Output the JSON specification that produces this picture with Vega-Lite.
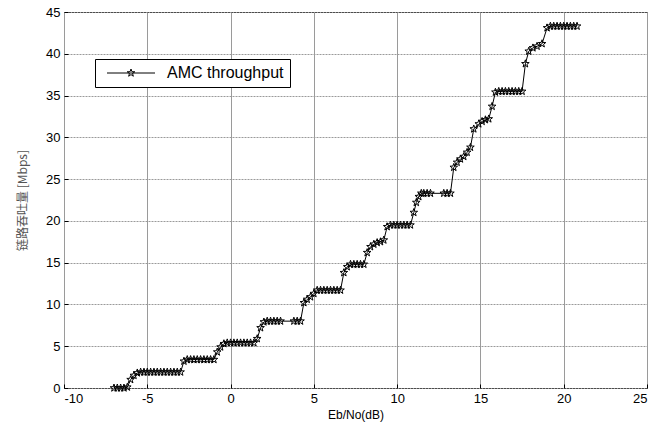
{
  "$schema": "https://vega.github.io/schema/vega-lite/v6.json",
  "width": 583,
  "height": 376,
  "autosize": {"type": "none"},
  "padding": {"left": 64, "top": 12, "right": 13, "bottom": 41},
  "background": "white",
  "config": {
    "view": {"stroke": "black", "strokeWidth": 1},
    "font": "Liberation Sans",
    "axis": {"labelFont": "Liberation Sans", "labelFontSize": 13, "labelColor": "black", "domain": false, "ticks": true, "tickSize": -4, "tickColor": "black", "gridColor": "#9a9a9a", "gridWidth": 1, "gridOpacity": 1, "labelExpr": "'' + datum.value"}
  },
  "data": {"values": [
    {"x": -7.0, "y": 0, "s": "AMC throughput"},
    {"x": -6.8, "y": 0, "s": "AMC throughput"},
    {"x": -6.6, "y": 0, "s": "AMC throughput"},
    {"x": -6.4, "y": 0, "s": "AMC throughput"},
    {"x": -6.2, "y": 0.1, "s": "AMC throughput"},
    {"x": -6.0, "y": 1.0, "s": "AMC throughput"},
    {"x": -5.8, "y": 1.5, "s": "AMC throughput"},
    {"x": -5.6, "y": 1.8, "s": "AMC throughput"},
    {"x": -5.4, "y": 1.9, "s": "AMC throughput"},
    {"x": -5.2, "y": 1.9, "s": "AMC throughput"},
    {"x": -5.0, "y": 1.9, "s": "AMC throughput"},
    {"x": -4.8, "y": 1.9, "s": "AMC throughput"},
    {"x": -4.6, "y": 1.9, "s": "AMC throughput"},
    {"x": -4.4, "y": 1.9, "s": "AMC throughput"},
    {"x": -4.2, "y": 1.9, "s": "AMC throughput"},
    {"x": -4.0, "y": 1.9, "s": "AMC throughput"},
    {"x": -3.8, "y": 1.9, "s": "AMC throughput"},
    {"x": -3.6, "y": 1.9, "s": "AMC throughput"},
    {"x": -3.4, "y": 1.9, "s": "AMC throughput"},
    {"x": -3.2, "y": 1.9, "s": "AMC throughput"},
    {"x": -3.0, "y": 1.9, "s": "AMC throughput"},
    {"x": -2.8, "y": 3.2, "s": "AMC throughput"},
    {"x": -2.6, "y": 3.4, "s": "AMC throughput"},
    {"x": -2.4, "y": 3.4, "s": "AMC throughput"},
    {"x": -2.2, "y": 3.4, "s": "AMC throughput"},
    {"x": -2.0, "y": 3.4, "s": "AMC throughput"},
    {"x": -1.8, "y": 3.4, "s": "AMC throughput"},
    {"x": -1.6, "y": 3.4, "s": "AMC throughput"},
    {"x": -1.4, "y": 3.4, "s": "AMC throughput"},
    {"x": -1.2, "y": 3.4, "s": "AMC throughput"},
    {"x": -1.0, "y": 3.4, "s": "AMC throughput"},
    {"x": -0.8, "y": 4.3, "s": "AMC throughput"},
    {"x": -0.6, "y": 4.9, "s": "AMC throughput"},
    {"x": -0.4, "y": 5.3, "s": "AMC throughput"},
    {"x": -0.2, "y": 5.4, "s": "AMC throughput"},
    {"x": 0.0, "y": 5.4, "s": "AMC throughput"},
    {"x": 0.2, "y": 5.4, "s": "AMC throughput"},
    {"x": 0.4, "y": 5.4, "s": "AMC throughput"},
    {"x": 0.6, "y": 5.4, "s": "AMC throughput"},
    {"x": 0.8, "y": 5.4, "s": "AMC throughput"},
    {"x": 1.0, "y": 5.4, "s": "AMC throughput"},
    {"x": 1.2, "y": 5.4, "s": "AMC throughput"},
    {"x": 1.4, "y": 5.4, "s": "AMC throughput"},
    {"x": 1.6, "y": 5.9, "s": "AMC throughput"},
    {"x": 1.8, "y": 7.2, "s": "AMC throughput"},
    {"x": 2.0, "y": 7.9, "s": "AMC throughput"},
    {"x": 2.2, "y": 8.0, "s": "AMC throughput"},
    {"x": 2.4, "y": 8.0, "s": "AMC throughput"},
    {"x": 2.6, "y": 8.0, "s": "AMC throughput"},
    {"x": 2.8, "y": 8.0, "s": "AMC throughput"},
    {"x": 3.0, "y": 8.0, "s": "AMC throughput"},
    {"x": 3.8, "y": 8.0, "s": "AMC throughput"},
    {"x": 4.0, "y": 8.0, "s": "AMC throughput"},
    {"x": 4.2, "y": 8.0, "s": "AMC throughput"},
    {"x": 4.4, "y": 10.2, "s": "AMC throughput"},
    {"x": 4.6, "y": 10.6, "s": "AMC throughput"},
    {"x": 4.8, "y": 10.9, "s": "AMC throughput"},
    {"x": 5.0, "y": 11.3, "s": "AMC throughput"},
    {"x": 5.2, "y": 11.7, "s": "AMC throughput"},
    {"x": 5.4, "y": 11.7, "s": "AMC throughput"},
    {"x": 5.6, "y": 11.7, "s": "AMC throughput"},
    {"x": 5.8, "y": 11.7, "s": "AMC throughput"},
    {"x": 6.0, "y": 11.7, "s": "AMC throughput"},
    {"x": 6.2, "y": 11.7, "s": "AMC throughput"},
    {"x": 6.4, "y": 11.7, "s": "AMC throughput"},
    {"x": 6.6, "y": 11.7, "s": "AMC throughput"},
    {"x": 6.8, "y": 13.8, "s": "AMC throughput"},
    {"x": 7.0, "y": 14.5, "s": "AMC throughput"},
    {"x": 7.2, "y": 14.8, "s": "AMC throughput"},
    {"x": 7.4, "y": 14.8, "s": "AMC throughput"},
    {"x": 7.6, "y": 14.8, "s": "AMC throughput"},
    {"x": 7.8, "y": 14.8, "s": "AMC throughput"},
    {"x": 8.0, "y": 14.8, "s": "AMC throughput"},
    {"x": 8.2, "y": 16.2, "s": "AMC throughput"},
    {"x": 8.4, "y": 16.9, "s": "AMC throughput"},
    {"x": 8.6, "y": 17.2, "s": "AMC throughput"},
    {"x": 8.8, "y": 17.4, "s": "AMC throughput"},
    {"x": 9.0, "y": 17.5, "s": "AMC throughput"},
    {"x": 9.2, "y": 17.7, "s": "AMC throughput"},
    {"x": 9.4, "y": 19.3, "s": "AMC throughput"},
    {"x": 9.6, "y": 19.5, "s": "AMC throughput"},
    {"x": 9.8, "y": 19.5, "s": "AMC throughput"},
    {"x": 10.0, "y": 19.5, "s": "AMC throughput"},
    {"x": 10.2, "y": 19.5, "s": "AMC throughput"},
    {"x": 10.4, "y": 19.5, "s": "AMC throughput"},
    {"x": 10.6, "y": 19.5, "s": "AMC throughput"},
    {"x": 10.8, "y": 19.5, "s": "AMC throughput"},
    {"x": 11.0, "y": 21.0, "s": "AMC throughput"},
    {"x": 11.15, "y": 22.2, "s": "AMC throughput"},
    {"x": 11.3, "y": 22.9, "s": "AMC throughput"},
    {"x": 11.45, "y": 23.3, "s": "AMC throughput"},
    {"x": 11.6, "y": 23.3, "s": "AMC throughput"},
    {"x": 11.8, "y": 23.3, "s": "AMC throughput"},
    {"x": 12.0, "y": 23.3, "s": "AMC throughput"},
    {"x": 12.8, "y": 23.3, "s": "AMC throughput"},
    {"x": 13.0, "y": 23.3, "s": "AMC throughput"},
    {"x": 13.2, "y": 23.3, "s": "AMC throughput"},
    {"x": 13.4, "y": 26.4, "s": "AMC throughput"},
    {"x": 13.6, "y": 27.0, "s": "AMC throughput"},
    {"x": 13.8, "y": 27.4, "s": "AMC throughput"},
    {"x": 14.0, "y": 27.7, "s": "AMC throughput"},
    {"x": 14.2, "y": 28.2, "s": "AMC throughput"},
    {"x": 14.4, "y": 28.8, "s": "AMC throughput"},
    {"x": 14.6, "y": 31.0, "s": "AMC throughput"},
    {"x": 14.9, "y": 31.6, "s": "AMC throughput"},
    {"x": 15.1, "y": 31.9, "s": "AMC throughput"},
    {"x": 15.3, "y": 32.1, "s": "AMC throughput"},
    {"x": 15.5, "y": 32.2, "s": "AMC throughput"},
    {"x": 15.7, "y": 33.7, "s": "AMC throughput"},
    {"x": 15.9, "y": 35.4, "s": "AMC throughput"},
    {"x": 16.1, "y": 35.5, "s": "AMC throughput"},
    {"x": 16.3, "y": 35.5, "s": "AMC throughput"},
    {"x": 16.5, "y": 35.5, "s": "AMC throughput"},
    {"x": 16.7, "y": 35.5, "s": "AMC throughput"},
    {"x": 16.9, "y": 35.5, "s": "AMC throughput"},
    {"x": 17.1, "y": 35.5, "s": "AMC throughput"},
    {"x": 17.3, "y": 35.5, "s": "AMC throughput"},
    {"x": 17.5, "y": 35.5, "s": "AMC throughput"},
    {"x": 17.7, "y": 38.8, "s": "AMC throughput"},
    {"x": 17.9, "y": 40.3, "s": "AMC throughput"},
    {"x": 18.15, "y": 40.7, "s": "AMC throughput"},
    {"x": 18.4, "y": 40.9, "s": "AMC throughput"},
    {"x": 18.7, "y": 41.2, "s": "AMC throughput"},
    {"x": 19.0, "y": 43.1, "s": "AMC throughput"},
    {"x": 19.2, "y": 43.3, "s": "AMC throughput"},
    {"x": 19.4, "y": 43.3, "s": "AMC throughput"},
    {"x": 19.6, "y": 43.3, "s": "AMC throughput"},
    {"x": 19.8, "y": 43.3, "s": "AMC throughput"},
    {"x": 20.0, "y": 43.3, "s": "AMC throughput"},
    {"x": 20.2, "y": 43.3, "s": "AMC throughput"},
    {"x": 20.4, "y": 43.3, "s": "AMC throughput"},
    {"x": 20.6, "y": 43.3, "s": "AMC throughput"},
    {"x": 20.8, "y": 43.3, "s": "AMC throughput"}
  ]},
  "encoding": {
    "x": {"field": "x", "type": "quantitative",
      "scale": {"domain": [-10, 25], "nice": false, "zero": false},
      "axis": {"values": [-10, -5, 0, 5, 10, 15, 20, 25], "title": "Eb/No(dB)", "titleFont": "Liberation Sans", "titleFontSize": 12, "titleFontWeight": "normal", "titleColor": "black", "titlePadding": 4, "labelPadding": 8, "gridDash": []}},
    "y": {"field": "y", "type": "quantitative",
      "scale": {"domain": [0, 45], "nice": false},
      "axis": {"values": [0, 5, 10, 15, 20, 25, 30, 35, 40, 45], "title": "链路吞吐量 [Mbps]", "titleFont": "Noto Sans CJK SC", "titleFontSize": 12, "titleFontWeight": "normal", "titleColor": "#555555", "titlePadding": 16, "labelPadding": 8, "gridDash": [2, 1]}}
  },
  "layer": [
    {
      "mark": {"type": "line", "strokeWidth": 1, "interpolate": "linear"},
      "encoding": {
        "stroke": {"field": "s", "type": "nominal",
          "scale": {"range": ["black"]},
          "legend": {"title": null, "orient": "none", "legendX": 31, "legendY": 47,
            "symbolType": "M-6,0L6,0M0,-1L0.235,-0.324L0.951,-0.309L0.38,0.124L0.588,0.809L0,0.4L-0.588,0.809L-0.38,0.124L-0.951,-0.309L-0.235,-0.324Z",
            "symbolSize": 64, "symbolStrokeWidth": 1, "symbolFillColor": "white", "symbolOffset": 22,
            "labelOffset": 28, "labelFont": "Liberation Sans", "labelFontSize": 16, "labelColor": "black",
            "strokeColor": "black", "fillColor": "white", "padding": 6, "cornerRadius": 0}}
      }
    },
    {
      "mark": {"type": "point", "shape": "M0,-1L0.235,-0.324L0.951,-0.309L0.38,0.124L0.588,0.809L0,0.4L-0.588,0.809L-0.38,0.124L-0.951,-0.309L-0.235,-0.324Z", "filled": false, "stroke": "black", "strokeWidth": 1, "size": 64, "opacity": 1}
    }
  ]
}
